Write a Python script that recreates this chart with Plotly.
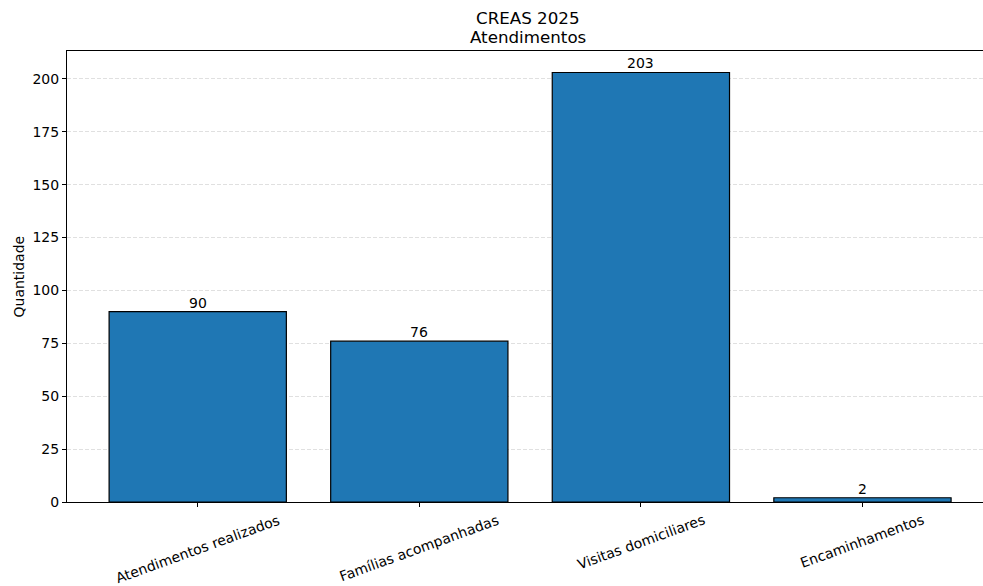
import plotly.graph_objects as go

categories = ["Atendimentos realizados", "Famílias acompanhadas", "Visitas domiciliares", "Encaminhamentos"]
values = [90, 76, 203, 2]
title_lines = ["CREAS 2025", "Atendimentos"]
y_label = "Quantidade"
y_ticks = [0, 25, 50, 75, 100, 125, 150, 175, 200]

FONT = "DejaVu Sans"
positions = list(range(len(categories)))

fig = go.Figure()
fig.add_trace(go.Bar(
    x=positions, y=values, width=0.8,
    marker=dict(color="#1f77b4", line=dict(color="black", width=1.2)),
    hoverinfo="skip",
))

annotations = []
for p, v in zip(positions, values):
    annotations.append(dict(x=p, y=v, xref="x", yref="y", text=str(v), showarrow=False,
                            yanchor="bottom", xanchor="center", yshift=-1,
                            font=dict(family=FONT, size=14, color="black")))
for p, c in zip(positions, categories):
    annotations.append(dict(x=p, y=0, xref="x", yref="paper", text=c, showarrow=False,
                            textangle=-20, yanchor="top", xanchor="center", yshift=-7,
                            font=dict(family=FONT, size=14, color="black")))
annotations.append(dict(x=0, y=0.5, xref="paper", yref="paper", text=y_label, showarrow=False,
                        textangle=-90, xanchor="center", yanchor="middle", xshift=-49,
                        font=dict(family=FONT, size=14, color="black")))
title_x = (528 - 67) / 916
annotations.append(dict(x=title_x, y=1, xref="paper", yref="paper", text=title_lines[0],
                        showarrow=False, xanchor="center", yanchor="middle", yshift=33,
                        font=dict(family=FONT, size=16.7, color="black")))
annotations.append(dict(x=title_x, y=1, xref="paper", yref="paper", text=title_lines[1],
                        showarrow=False, xanchor="center", yanchor="middle", yshift=14,
                        font=dict(family=FONT, size=16.7, color="black")))

fig.update_layout(
    width=983, height=586,
    margin=dict(l=67, r=0, t=51, b=84),
    plot_bgcolor="white", paper_bgcolor="white",
    showlegend=False,
    annotations=annotations,
    font=dict(family=FONT, size=14, color="black"),
    xaxis=dict(range=[-0.59, 3.544], tickvals=positions, ticktext=[""] * len(positions),
               ticks="outside", ticklen=4, tickcolor="black", tickwidth=1,
               showline=True, linecolor="black", linewidth=1.1, mirror=True,
               showgrid=False, zeroline=False, fixedrange=True),
    yaxis=dict(range=[0, 213.15], tickvals=y_ticks, ticks="outside", ticklen=4,
               tickcolor="black", tickwidth=1,
               showline=True, linecolor="black", linewidth=1.1,
               showgrid=True, gridcolor="#e0e0e0", griddash="4px,2px", gridwidth=0.8,
               zeroline=False, tickfont=dict(family=FONT, size=14, color="black"),
               fixedrange=True),
)

fig.write_html("out.html",
               config={"displayModeBar": False},
               post_script="document.body.style.margin='0px';document.body.style.overflow='hidden';")
